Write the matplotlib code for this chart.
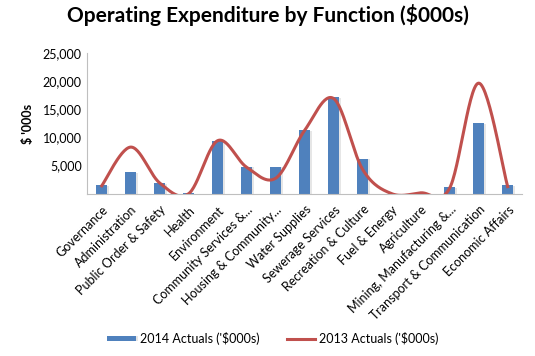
import numpy as np
import matplotlib
matplotlib.use('Agg')
from matplotlib import pyplot as plt
from matplotlib import patheffects as pe

plt.rcParams['font.family'] = ['Lato', 'DejaVu Sans']

# data
functions = ['Governance', 'Administration', 'Public Order & Safety', 'Health',
             'Environment', 'Community Services &...', 'Housing & Community...',
             'Water Supplies', 'Sewerage Services', 'Recreation & Culture',
             'Fuel & Energy', 'Agriculture', 'Mining, Manufacturing &...',
             'Transport & Communication', 'Economic Affairs']
actuals_2014 = [1550, 3800, 1850, 100, 9450, 4800, 4800, 11350, 17150, 6250,
                0, 0, 1150, 12550, 1500]
actuals_2013 = [1400, 8300, 1900, 0, 9450, 4700, 2750, 11300, 16950, 4300,
                0, 150, 1000, 19700, 1250]
yticks = [5000, 10000, 15000, 20000, 25000]


def smooth(y, n=30):
    # Catmull-Rom style smoothing like the spreadsheet "smoothed line"
    y = np.asarray(y, dtype=float)
    x = np.arange(len(y), dtype=float)
    px = np.concatenate([[x[0]], x, [x[-1]]])
    py = np.concatenate([[y[0]], y, [y[-1]]])
    xs, ys = [], []
    t = np.linspace(0, 1, n)
    for i in range(1, len(px) - 2):
        p0x, p1x, p2x, p3x = px[i - 1:i + 3]
        p0y, p1y, p2y, p3y = py[i - 1:i + 3]
        c1x, c1y = p1x + (p2x - p0x) / 6, p1y + (p2y - p0y) / 6
        c2x, c2y = p2x - (p3x - p1x) / 6, p2y - (p3y - p1y) / 6
        bx = (1 - t)**3 * p1x + 3 * (1 - t)**2 * t * c1x + 3 * (1 - t) * t**2 * c2x + t**3 * p2x
        by = (1 - t)**3 * p1y + 3 * (1 - t)**2 * t * c1y + 3 * (1 - t) * t**2 * c2y + t**3 * p2y
        xs.extend(bx)
        ys.extend(by)
    return np.array(xs), np.array(ys)


fig = plt.figure(dpi=100, figsize=(5.35, 3.56))
ax = fig.add_axes([0.163, 0.456, 0.813, 0.394])

x = np.arange(len(functions))
bars = ax.bar(x, actuals_2014, width=0.37, color='#4F81BD', zorder=2,
              label="2014 Actuals ('$000s)")
for b in bars:
    b.set_path_effects([pe.SimplePatchShadow(offset=(1.5, -0.5), shadow_rgbFace='#c8c8c8', alpha=0.45),
                        pe.Normal()])

sx, sy = smooth(actuals_2013)
line, = ax.plot(sx, sy, color='#C0504D', lw=2.2, zorder=3, label="2013 Actuals ('$000s)")

ax.set_xlim(-0.5, len(functions) - 0.5)
ax.set_ylim(0, 25000)
ax.set_yticks(yticks)
ax.set_yticklabels(['{:,}'.format(v) for v in yticks], fontsize=9)
ax.set_xticks(x)
ax.set_xticklabels(functions, rotation=45, ha='right', rotation_mode='anchor', fontsize=9)
ax.tick_params(axis='y', length=0, pad=4)
ax.tick_params(axis='x', length=0, pad=7)
for side in ['top', 'right']:
    ax.spines[side].set_visible(False)
for side in ['left', 'bottom']:
    ax.spines[side].set_color('#bfbfbf')

ax.set_ylabel("$ '000s", fontsize=9, fontweight='bold', labelpad=6)
fig.suptitle("Operating Expenditure by Function ($000s)", fontsize=15,
             fontweight='bold', x=0.5, y=0.99)

fig.legend([bars, line], ["2014 Actuals ('$000s)", "2013 Actuals ('$000s)"],
           loc='center', bbox_to_anchor=(0.51, 0.05), ncol=2, frameon=False,
           fontsize=9, handlelength=2.3, handleheight=0.25, columnspacing=2.2,
           handletextpad=0.3)

plt.savefig('out.png', dpi=100)
